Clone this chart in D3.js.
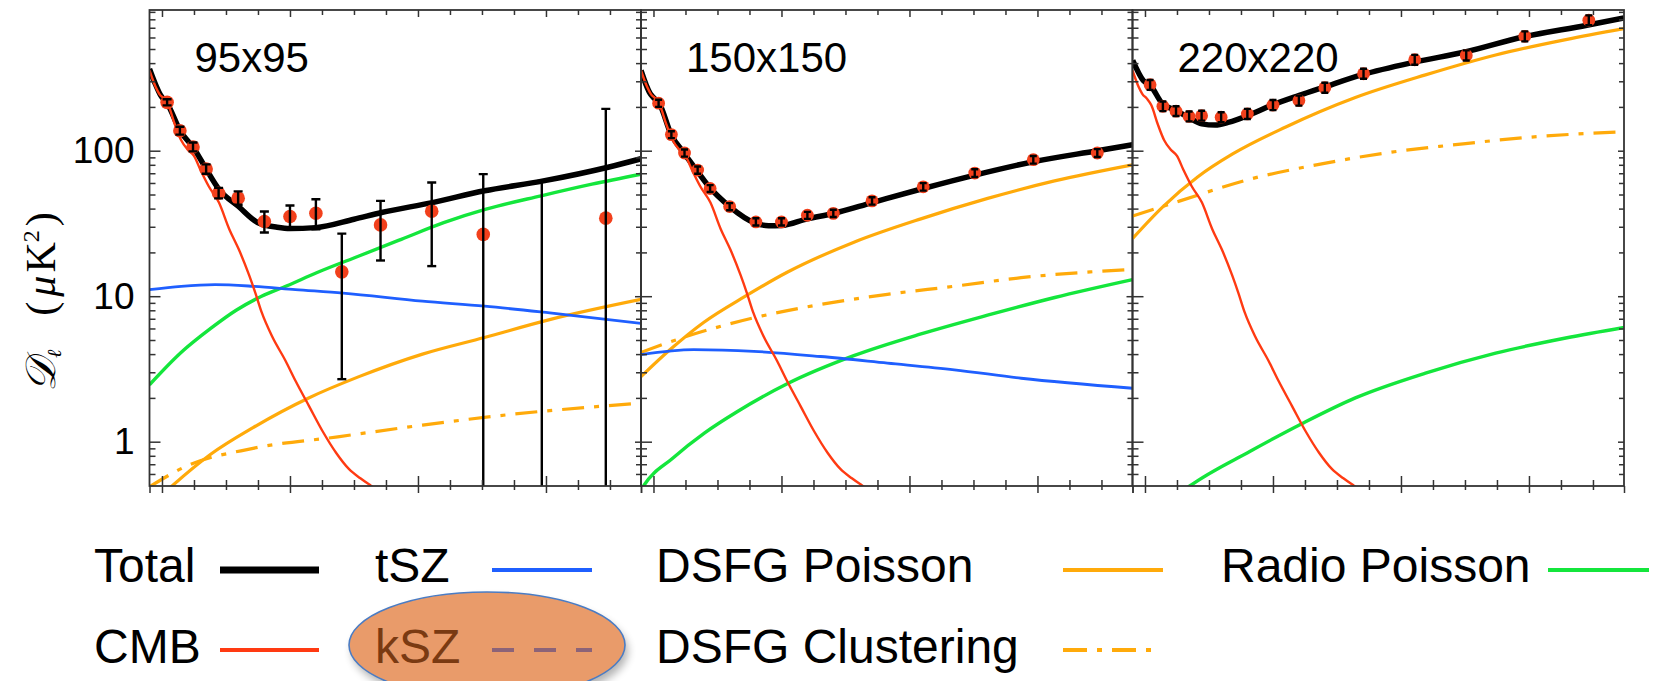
<!DOCTYPE html>
<html><head><meta charset="utf-8">
<script src="https://cdn.jsdelivr.net/npm/d3@7"></script>
<style>body{margin:0;background:#fff}</style>
</head><body>
<svg id="c" width="1660" height="681" xmlns="http://www.w3.org/2000/svg"></svg>
<script>
// ---------------- DATA ----------------
const panelNames = ["95x95", "150x150", "220x220"];
const bandEll = [2080, 2280, 2485, 2690, 2885, 3190, 3600, 4000, 4405, 4810, 5415, 6215, 7020, 7935, 8935];

const p95   = [215, 137, 106, 74.8, 51, 47.2, 32.6, 35.3, 37.2, 14.7, 30.9, 38.4, 26.6, null, 34.4];
const p95lo = [205, 129, 99, 69.5, 47, 42.5, 27.4, 28.8, 28.8, 2.69, 17.6, 16.1, 0.1, 0.1, 0.1];
const p95hi = [226, 146, 114, 80.5, 55.5, 52.5, 38.2, 42, 46.4, 26.9, 45.2, 60.5, 69, 62, 194];

const p150   = [212, 129, 96.4, 73.6, 55, 41.3, 32.4, 32.4, 36, 37.1, 45.2, 56.5, 70.2, 86.7, 96.4];
const p150lo = [200, 122, 91, 69.5, 52, 39, 30.6, 30.6, 34, 35, 42.6, 53.2, 66, 81.5, 90.5];
const p150hi = [224, 136, 102, 77.8, 58, 43.6, 34.3, 34.3, 38, 39.3, 47.9, 59.9, 74.5, 92, 102.5];

const p220   = [284, 202, 187, 172, 174, 170, 179, 206, 221, 271, 338, 422, 452, 611, 788];
const p220lo = [262, 187, 173, 159, 161, 157, 165, 190, 204, 250, 312, 390, 417, 564, 728];
const p220hi = [306, 218, 202, 186, 188, 184, 194, 223, 239, 293, 366, 456, 489, 661, 852];

// CMB (same in all three panels)
const cmb = [[1805,356],[1900,275],[1960,245],[2030,228],[2100,205],[2200,152],[2300,118],[2400,102],[2500,92],[2600,74],[2730,57],[2890,44],[3050,29],[3200,21],[3360,14],[3460,10.5],[3560,7.7],[3720,5.3],[3930,3.6],[4090,2.6],[4300,1.75],[4510,1.18],[4720,0.84],[4920,0.65],[5100,0.56],[5260,0.50],[5450,0.44]];

const total95  = [[1805,365],[1900,285],[1975,242],[2080,212],[2285,137],[2497,104],[2689,75],[2894,54],[3192,41.5],[3500,32],[3800,29.8],[4000,29.2],[4400,29.6],[5000,33.8],[5430,37.6],[6225,44],[7040,53],[7960,62],[8970,77],[9485,88]];
const total150 = [[1805,356],[1950,246],[2000,232],[2089,212],[2277,129],[2480,96],[2689,72],[2877,56],[3185,41.5],[3593,31.8],[3800,30.5],[4000,30.6],[4402,34],[4809,37],[5420,44],[6214,55],[7023,68],[7937,84],[8935,100],[9485,110]];
const total220 = [[1808,418],[1973,304],[2082,282],[2274,210],[2477,190],[2685,169],[2888,153],[3096,150],[3315,157],[3600,174],[3989,206],[4400,239],[4794,273],[5397,333],[6208,406],[7002,477],[7906,605],[8904,728],[9485,818]];

const tsz95  = [[1805,11.1],[2300,11.7],[2830,12.0],[3420,11.7],[4085,11.1],[4830,10.5],[6070,9.24],[7040,8.54],[8060,7.67],[9485,6.5]];
const tsz150 = [[1805,3.96],[2627,4.29],[3567,4.18],[4611,3.85],[5655,3.47],[6700,3.12],[7744,2.73],[9485,2.33]];

const radio95  = [[1805,2.46],[2298,4.1],[2761,6.0],[3159,8.0],[3556,10],[3953,11.8],[4416,14.5],[5078,18.9],[5740,24.6],[6402,32],[7064,39.6],[7925,49],[8719,58.9],[9485,69]];
const radio150 = [[1800,0.46],[1850,0.5],[2300,0.77],[2800,1.15],[3300,1.6],[4090,2.5],[5130,3.9],[6180,5.5],[7220,7.4],[8270,9.8],[9485,13.0]];
const radio220 = [[2600,0.46],[2712,0.5],[3644,0.86],[4466,1.34],[5287,2.0],[6383,2.96],[7479,4.06],[8575,5.16],[9485,6.1]];

const dsfgP95  = [[2050,0.45],[2166,0.5],[2761,0.82],[3423,1.25],[4284,1.99],[5078,2.8],[6071,4.0],[7038,5.2],[8057,6.9],[9485,9.5]];
const dsfgP150 = [[1805,2.8],[2261,4.3],[2783,6.6],[3436,10.0],[4089,14.6],[5133,23.5],[6178,34],[7222,47],[8266,62],[9485,80]];
const dsfgP220 = [[1808,25],[2274,41],[2822,66],[3370,95],[4192,145],[5287,232],[6383,332],[7479,455],[8575,580],[9485,690]];

const dsfgC95  = [[1805,0.49],[2364,0.673],[3423,0.90],[4747,1.08],[6071,1.30],[7395,1.53],[9485,1.84]];
const dsfgC150 = [[1805,4.11],[2522,5.3],[3567,7.1],[4611,8.77],[5655,10.3],[6700,11.7],[7744,13.4],[9485,15.3]];
const dsfgC220 = [[1808,35.6],[2548,45.2],[3644,63.8],[4740,80.9],[5835,97.5],[6931,111],[8027,124],[9485,135]];

const xMajor = [2000, 4000, 6000, 8000];
const xMinor = [2500, 3000, 3500, 4500, 5000, 5500, 6500, 7000, 7500, 8500, 9000];
const yMajor = [1, 10, 100];
const yMinor = [0.6,0.7,0.8,0.9,2,3,4,5,6,7,8,9,20,30,40,50,60,70,80,90,200,300,400,500,600,700,800,900];
const yLabels = ["1", "10", "100"];

const legendRow1 = ["Total", "tSZ", "DSFG Poisson", "Radio Poisson"];
const legendRow2 = ["CMB", "kSZ", "DSFG Clustering"];

// ---------------- DRAW ----------------
const svg = d3.select("#c");
const panelLefts = [149.5, 641, 1132.5];
const W = 491.5, TOP = 10, BOTTOM = 486;
const xDomain = [1805, 9485];
const yScale = d3.scaleLog().domain([0.496, 927]).range([BOTTOM, TOP]);

const C = {
  total: "#000", cmb: "#ff3a12", tsz: "#1f5fff", radio: "#14e63c",
  dsfg: "#ffaa0a", dot: "#f2401c", frame: "#333"
};

const panelData = [
  {pts:p95, lo:p95lo, hi:p95hi, total:total95, tsz:tsz95, radio:radio95, dp:dsfgP95, dc:dsfgC95, r:6.8, cap:4.5, ew:2.4},
  {pts:p150, lo:p150lo, hi:p150hi, total:total150, tsz:tsz150, radio:radio150, dp:dsfgP150, dc:dsfgC150, r:6.4, cap:3.5, ew:2.4},
  {pts:p220, lo:p220lo, hi:p220hi, total:total220, tsz:null, radio:radio220, dp:dsfgP220, dc:dsfgC220, r:6.4, cap:3.5, ew:2.4}
];

const defs = svg.append("defs");

panelData.forEach((pd, i) => {
  const L = panelLefts[i];
  const x = d3.scaleLinear().domain(xDomain).range([L, L + W]);
  const g = svg.append("g");
  defs.append("clipPath").attr("id", "clip" + i)
    .append("rect").attr("x", L).attr("y", TOP).attr("width", W).attr("height", BOTTOM - TOP);
  const plot = g.append("g").attr("clip-path", `url(#clip${i})`);
  const line = d3.line().x(d => x(d[0])).y(d => yScale(d[1])).curve(d3.curveMonotoneX);

  const drawLine = (data, color, width, dash) => {
    if (!data) return;
    const p = plot.append("path").attr("d", line(data)).attr("fill", "none")
      .attr("stroke", color).attr("stroke-width", width).attr("stroke-linejoin","round");
    if (dash) p.attr("stroke-dasharray", dash);
  };
  drawLine(pd.dc, C.dsfg, 3.2, "22,10,5,10");
  drawLine(pd.dp, C.dsfg, 3.2);
  drawLine(pd.radio, C.radio, 3.4);
  drawLine(pd.tsz, C.tsz, 2.8);
  drawLine(pd.total, C.total, 5.5);
  drawLine(cmb, C.cmb, 2.4);

  // data points
  const pts = bandEll.map((e, k) => ({e, v: pd.pts[k], lo: pd.lo[k], hi: pd.hi[k]}));
  plot.selectAll(".dot").data(pts.filter(d => d.v != null && d.v > 0)).enter()
    .append("circle").attr("cx", d => x(d.e)).attr("cy", d => yScale(d.v))
    .attr("r", pd.r).attr("fill", C.dot);
  const eb = plot.append("g").attr("stroke", "#000").attr("stroke-width", pd.ew);
  pts.forEach(d => {
    const y1 = yScale(Math.max(d.lo, 0.3)), y2 = yScale(d.hi), cx = x(d.e);
    eb.append("line").attr("x1", cx).attr("x2", cx).attr("y1", y1).attr("y2", y2);
    eb.append("line").attr("x1", cx - pd.cap).attr("x2", cx + pd.cap).attr("y1", y2).attr("y2", y2);
    if (d.lo > 0.5) eb.append("line").attr("x1", cx - pd.cap).attr("x2", cx + pd.cap).attr("y1", y1).attr("y2", y1);
  });

  // ticks via d3 axes
  const tickAxis = (axis, tr) => {
    const a = g.append("g").attr("transform", tr).call(axis);
    a.select(".domain").remove();
    a.selectAll("line").attr("stroke", C.frame).attr("stroke-width", 1.5);
    a.selectAll("text").remove();
  };
  tickAxis(d3.axisBottom(x).tickValues(xMajor).tickSizeInner(-10).tickSizeOuter(0), `translate(0,${BOTTOM})`);
  tickAxis(d3.axisBottom(x).tickValues(xMajor).tickSizeInner(7).tickSizeOuter(0), `translate(0,${BOTTOM})`);
  tickAxis(d3.axisBottom(x).tickValues(xMinor).tickSizeInner(-6).tickSizeOuter(0), `translate(0,${BOTTOM})`);
  tickAxis(d3.axisBottom(x).tickValues(xMinor).tickSizeInner(4).tickSizeOuter(0), `translate(0,${BOTTOM})`);
  tickAxis(d3.axisBottom(x).tickValues(xDomain).tickSizeInner(7).tickSizeOuter(0), `translate(0,${BOTTOM})`);
  tickAxis(d3.axisTop(x).tickValues(xMajor).tickSizeInner(-7).tickSizeOuter(0), `translate(0,${TOP})`);
  tickAxis(d3.axisTop(x).tickValues(xMinor).tickSizeInner(-5).tickSizeOuter(0), `translate(0,${TOP})`);
  tickAxis(d3.axisLeft(yScale).tickValues(yMajor).tickSizeInner(-11).tickSizeOuter(0), `translate(${L},0)`);
  tickAxis(d3.axisLeft(yScale).tickValues(yMinor).tickSizeInner(-6).tickSizeOuter(0), `translate(${L},0)`);
  tickAxis(d3.axisRight(yScale).tickValues(yMajor).tickSizeInner(-6).tickSizeOuter(0), `translate(${L + W},0)`);
  tickAxis(d3.axisRight(yScale).tickValues(yMinor).tickSizeInner(-5).tickSizeOuter(0), `translate(${L + W},0)`);

  // frame
  g.append("rect").attr("x", L).attr("y", TOP).attr("width", W).attr("height", BOTTOM - TOP)
    .attr("fill", "none").attr("stroke", C.frame).attr("stroke-width", 1.8);

  // panel label
  g.append("text").attr("x", L + 45).attr("y", 72).attr("font-family", "'Liberation Sans', Arial, sans-serif")
    .attr("font-size", 42).attr("fill", "#000").text(panelNames[i]);

  if (i === 0) {
    const ya = g.append("g").attr("transform", `translate(${L},0)`)
      .call(d3.axisLeft(yScale).tickValues(yMajor).tickSize(0).tickPadding(15).tickFormat((d, k) => yLabels[k]));
    ya.select(".domain").remove();
    ya.selectAll("text").attr("font-family", "'Liberation Sans', Arial, sans-serif").attr("font-size", 37).attr("fill", "#000");
  }
});

// y axis title
const yt = svg.append("text").attr("transform", "translate(55,392) rotate(-90)")
  .attr("font-family", "'Liberation Serif','DejaVu Serif',serif").attr("font-size", 42).attr("fill", "#000");
yt.append("tspan").attr("font-style", "italic").text("𝒟");
yt.append("tspan").attr("font-size", 20).attr("dy", 6).attr("font-style", "italic").text("ℓ");
yt.append("tspan").attr("dy", -6).attr("dx", 34).text("(");
yt.append("tspan").attr("font-style", "italic").attr("dx", 5).text("μ");
yt.append("tspan").attr("dx", 3).text("K");
yt.append("tspan").attr("font-size", 24).attr("dy", -16).text("2");
yt.append("tspan").attr("dy", 16).attr("dx", 4).text(")");

// legend
const lf = "'Liberation Sans', Arial, sans-serif";
const lg = svg.append("g").attr("font-family", lf).attr("font-size", 48).attr("fill", "#000");
// ellipse (kSZ highlight) with shadow
const filt = defs.append("filter").attr("id", "sh").attr("x", "-20%").attr("y", "-20%").attr("width", "140%").attr("height", "140%");
filt.append("feGaussianBlur").attr("stdDeviation", 4);
lg.append("ellipse").attr("cx", 490).attr("cy", 651).attr("rx", 138).attr("ry", 53)
  .attr("fill", "#000").attr("opacity", 0.3).attr("filter", "url(#sh)");
lg.append("ellipse").attr("cx", 487).attr("cy", 645).attr("rx", 138).attr("ry", 53)
  .attr("fill", "#e99b6a").attr("stroke", "#4a7cc4").attr("stroke-width", 1.6);

const row1X = [94, 375, 656, 1221];
const row2X = [94, 375, 656];
const row1Line = [[220, 319], [492, 592], [1063, 1163], [1548, 1649]];
const row2Line = [[220, 319], [492, 592], [1063, 1154]];
const row1Style = [[C.total, 7, null], [C.tsz, 4, null], [C.dsfg, 4, null], [C.radio, 4, null]];
const row2Style = [[C.cmb, 4, null], ["#8c6378", 4, "22,20"], [C.dsfg, 4, "24,10,5,10"]];

legendRow1.forEach((t, k) => {
  lg.append("text").attr("x", row1X[k]).attr("y", 582).text(t);
  lg.append("line").attr("x1", row1Line[k][0]).attr("x2", row1Line[k][1]).attr("y1", 570).attr("y2", 570)
    .attr("stroke", row1Style[k][0]).attr("stroke-width", row1Style[k][1]);
});
legendRow2.forEach((t, k) => {
  lg.append("text").attr("x", row2X[k]).attr("y", 663).attr("fill", k === 1 ? "#7a3a12" : "#000").text(t);
  const l = lg.append("line").attr("x1", row2Line[k][0]).attr("x2", row2Line[k][1]).attr("y1", 650).attr("y2", 650)
    .attr("stroke", row2Style[k][0]).attr("stroke-width", row2Style[k][1]);
  if (row2Style[k][2]) l.attr("stroke-dasharray", row2Style[k][2]);
});
</script>
</body></html>
